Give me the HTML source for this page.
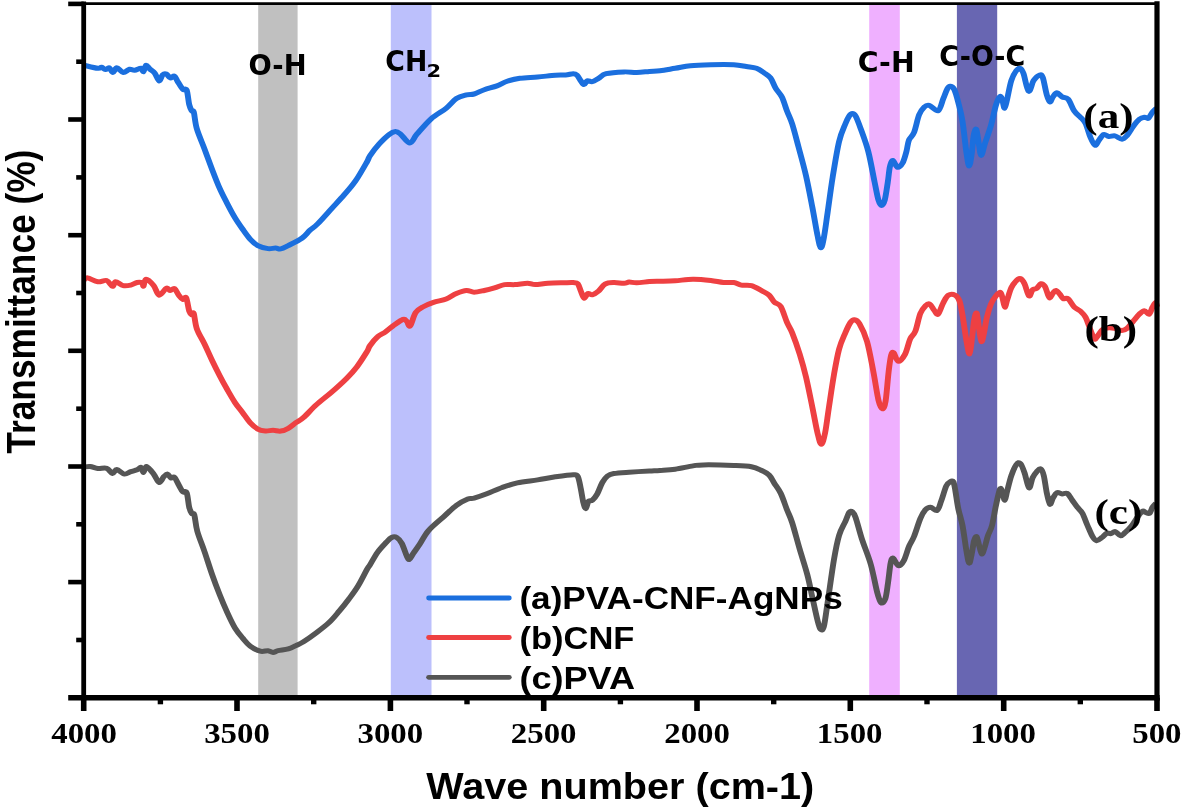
<!DOCTYPE html>
<html lang="en">
<head>
<meta charset="utf-8">
<title>FTIR spectra</title>
<style>
html,body{margin:0;padding:0;background:#fff;}
body{width:1181px;height:812px;overflow:hidden;}
svg{display:block;}
</style>
</head>
<body>
<svg width="1181" height="812" viewBox="0 0 1181 812">
<rect width="1181" height="812" fill="#ffffff"/>
<rect x="258.2" y="5" width="39.4" height="692.8" fill="#c0c0c0"/>
<rect x="390.8" y="5" width="40.7" height="692.8" fill="#bcc0fc"/>
<rect x="869.2" y="5" width="30.6" height="692.8" fill="#efb0ff"/>
<rect x="956.9" y="5" width="40.3" height="694.8" fill="#6866b2"/>
<g transform="scale(1.18,1)" fill="none" stroke-width="5.0" stroke-linejoin="round" stroke-linecap="butt">
<path d="M71.02,65.2C72.99,65.7 80.37,68.0 82.88,68.3C85.40,68.6 85.03,67.1 86.10,67.3C87.18,67.5 88.25,69.5 89.32,69.6C90.40,69.7 91.47,67.3 92.54,67.8C93.62,68.3 94.69,72.4 95.76,72.4C96.84,72.4 97.54,67.8 98.98,67.8C100.42,67.8 102.61,72.2 104.41,72.4C106.20,72.7 108.14,69.7 109.75,69.3C111.36,68.9 112.44,70.5 114.07,70.3C115.69,70.1 118.23,68.1 119.49,68.3C120.75,68.5 120.90,72.1 121.61,71.6C122.32,71.1 122.84,65.6 123.73,65.2C124.62,64.8 125.69,67.6 126.95,69.0C128.21,70.4 129.94,71.4 131.27,73.4C132.60,75.4 133.83,80.8 134.92,81.0C136.00,81.2 136.78,76.1 137.80,74.9C138.81,73.8 139.94,73.6 141.02,74.1C142.09,74.6 143.09,77.6 144.24,77.9C145.38,78.2 146.81,75.6 147.88,76.2C148.95,76.8 149.49,79.5 150.68,81.7C151.86,83.9 153.74,88.0 155.00,89.4C156.26,90.8 157.33,87.6 158.22,90.1C159.11,92.6 159.62,101.1 160.34,104.6C161.06,108.1 161.89,109.7 162.54,111.0C163.19,112.3 163.53,109.2 164.24,112.2C164.94,115.2 165.27,122.6 166.78,128.7C168.29,134.8 171.14,142.2 173.31,149.0C175.47,155.8 177.60,162.8 179.75,169.4C181.89,176.0 184.04,182.7 186.19,188.4C188.33,194.1 190.48,198.8 192.63,203.7C194.77,208.6 196.91,213.4 199.07,217.6C201.23,221.8 203.43,225.5 205.59,229.1C207.75,232.7 209.89,236.4 212.03,239.2C214.18,241.9 215.96,244.0 218.47,245.6C220.99,247.2 224.60,248.2 227.12,248.6C229.63,249.0 231.77,248.0 233.56,248.1C235.35,248.2 236.09,249.3 237.88,248.9C239.68,248.5 241.29,247.4 244.32,245.6C247.36,243.8 253.05,240.6 256.10,238.0C259.15,235.4 260.47,232.6 262.63,230.3C264.79,228.0 266.02,227.6 269.07,224.0C272.12,220.4 277.16,213.6 280.93,208.7C284.70,203.8 288.29,199.5 291.69,194.8C295.10,190.2 298.14,186.3 301.36,180.8C304.58,175.3 308.98,166.0 311.02,161.8C313.05,157.6 311.88,158.6 313.56,155.7C315.24,152.8 318.42,147.8 321.10,144.3C323.79,140.8 327.33,136.7 329.66,134.6C331.99,132.5 333.46,131.7 335.08,131.6C336.71,131.5 337.36,132.2 339.41,134.1C341.45,136.0 345.04,143.0 347.37,143.0C349.70,143.0 350.41,138.1 353.39,134.1C356.37,130.1 361.13,123.2 365.25,118.9C369.38,114.6 374.55,111.6 378.14,108.2C381.72,104.8 383.91,100.8 386.78,98.6C389.65,96.4 392.84,95.6 395.34,94.8C397.84,94.0 399.27,94.8 401.78,94.0C404.29,93.2 407.19,91.0 410.42,89.7C413.66,88.4 417.95,87.3 421.19,85.9C424.42,84.5 426.60,82.6 429.83,81.3C433.06,80.0 436.30,79.0 440.59,78.3C444.89,77.6 450.58,77.5 455.59,77.0C460.61,76.5 466.72,75.5 470.68,75.2C474.63,74.9 476.81,75.2 479.32,75.0C481.84,74.8 484.15,73.7 485.76,73.7C487.37,73.7 487.91,74.0 488.98,75.2C490.06,76.4 491.20,79.2 492.20,80.8C493.21,82.4 494.10,84.6 495.00,84.6C495.90,84.6 496.47,81.3 497.63,80.8C498.79,80.3 500.34,82.0 501.95,81.6C503.56,81.2 505.32,79.6 507.29,78.3C509.25,77.0 510.14,74.8 513.73,73.7C517.32,72.6 524.51,72.1 528.81,71.9C533.12,71.7 535.99,72.5 539.58,72.4C543.16,72.3 547.05,71.7 550.34,71.4C553.63,71.1 555.68,71.2 559.32,70.7C562.97,70.2 567.90,69.1 572.20,68.3C576.51,67.5 580.14,66.3 585.17,65.7C590.20,65.1 596.27,64.9 602.37,64.7C608.47,64.5 616.75,64.4 621.78,64.7C626.81,65.0 629.32,65.9 632.54,66.5C635.76,67.1 638.60,67.2 641.10,68.3C643.60,69.4 645.56,71.3 647.54,72.9C649.52,74.5 651.34,75.4 652.97,77.9C654.59,80.4 655.68,84.9 657.29,88.1C658.90,91.3 661.02,93.2 662.63,97.0C664.24,100.8 665.51,106.5 666.95,111.0C668.39,115.5 669.66,117.8 671.27,123.7C672.88,129.6 674.65,137.8 676.61,146.5C678.57,155.2 681.07,165.5 683.05,175.7C685.03,185.9 686.85,197.6 688.47,207.5C690.10,217.4 691.61,228.7 692.80,235.4C693.98,242.1 694.70,247.2 695.59,247.6C696.48,248.0 697.18,243.8 698.14,238.0C699.10,232.2 700.10,222.8 701.36,212.6C702.61,202.4 704.05,188.9 705.68,177.0C707.30,165.1 709.31,150.3 711.10,141.4C712.90,132.5 715.01,127.9 716.44,123.7C717.87,119.5 718.69,117.7 719.66,116.0C720.64,114.3 721.38,113.5 722.29,113.5C723.19,113.5 723.90,113.5 725.08,116.0C726.27,118.5 727.61,122.8 729.41,128.7C731.20,134.6 733.88,142.7 735.85,151.6C737.81,160.5 739.76,174.0 741.19,182.1C742.61,190.2 743.43,196.0 744.41,199.9C745.38,203.8 746.13,205.4 747.03,205.4C747.94,205.4 748.94,203.8 749.83,199.9C750.72,196.0 751.65,187.6 752.37,182.1C753.09,176.6 753.43,170.4 754.15,166.8C754.87,163.2 755.62,160.4 756.69,160.5C757.77,160.6 759.22,166.9 760.59,167.3C761.96,167.7 763.66,165.6 764.92,163.0C766.17,160.4 767.25,155.4 768.14,151.6C769.03,147.8 769.18,143.4 770.25,140.2C771.33,137.0 773.14,136.7 774.58,132.5C776.02,128.3 777.46,119.0 778.90,114.8C780.34,110.6 781.79,108.7 783.22,107.1C784.65,105.5 785.49,104.8 787.46,105.4C789.42,106.0 793.02,111.8 795.00,110.7C796.98,109.6 798.02,102.6 799.32,98.9C800.62,95.2 801.79,90.9 802.80,88.8C803.80,86.7 804.34,86.1 805.34,86.3C806.34,86.5 807.67,87.0 808.81,89.8C809.96,92.6 811.06,97.8 812.20,103.0C813.35,108.2 814.52,112.8 815.68,121.3C816.84,129.8 818.21,146.4 819.15,153.8C820.10,161.2 820.64,166.0 821.36,166.0C822.08,166.0 822.84,158.9 823.47,153.8C824.11,148.7 824.52,139.6 825.17,135.5C825.82,131.4 826.65,128.1 827.37,129.4C828.09,130.8 828.80,139.3 829.49,143.6C830.18,147.9 830.66,155.4 831.53,155.4C832.39,155.4 833.28,148.6 834.66,143.6C836.05,138.6 838.26,131.7 839.83,125.3C841.40,118.9 842.78,109.8 844.07,105.0C845.35,100.2 846.62,97.2 847.54,96.5C848.46,95.8 848.94,99.1 849.58,101.0C850.21,102.9 850.69,108.4 851.36,108.1C852.02,107.8 852.61,103.5 853.56,98.9C854.51,94.3 855.73,85.3 857.03,80.6C858.33,75.9 860.07,72.5 861.36,70.5C862.64,68.5 863.74,67.9 864.75,68.4C865.75,68.9 866.21,69.7 867.37,73.5C868.53,77.3 870.27,90.0 871.69,91.2C873.12,92.4 874.36,83.3 875.93,80.6C877.50,77.9 879.80,75.5 881.10,75.0C882.40,74.5 882.73,74.3 883.73,77.6C884.73,80.9 886.12,90.8 887.12,94.9C888.12,99.0 888.88,101.7 889.75,102.0C890.61,102.3 891.29,98.4 892.29,96.9C893.29,95.4 894.46,92.8 895.76,92.8C897.06,92.8 898.50,95.8 900.08,96.9C901.67,98.0 903.53,96.9 905.25,99.3C906.98,101.7 908.70,108.1 910.42,111.1C912.15,114.1 914.01,115.2 915.59,117.2C917.18,119.2 918.49,119.9 919.92,123.3C921.34,126.7 922.81,133.8 924.15,137.5C925.49,141.2 926.81,144.8 927.97,145.3C929.12,145.8 929.87,142.4 931.10,140.6C932.33,138.8 933.91,135.2 935.34,134.5C936.77,133.8 938.08,136.3 939.66,136.5C941.24,136.7 942.97,135.5 944.83,135.9C946.69,136.3 949.12,139.3 950.85,139.2C952.57,139.1 953.59,137.6 955.17,135.5C956.75,133.4 958.62,129.1 960.34,126.4C962.06,123.7 963.93,120.8 965.51,119.3C967.09,117.8 968.55,117.4 969.83,117.2C971.12,117.0 972.08,119.1 973.22,118.2C974.36,117.3 975.54,113.8 976.69,112.1C977.85,110.4 979.59,108.8 980.17,108.1" stroke="#1b6fde"/>
<path d="M71.02,280.0C71.55,279.6 72.26,277.6 74.24,277.9C76.21,278.2 80.18,281.4 82.88,281.8C85.58,282.2 88.35,279.8 90.42,280.5C92.50,281.2 94.08,286.1 95.34,286.3C96.60,286.5 96.45,281.9 97.97,281.8C99.48,281.7 102.26,285.1 104.41,285.6C106.55,286.2 108.87,285.6 110.85,285.1C112.82,284.6 114.66,282.9 116.27,282.5C117.88,282.1 119.62,282.4 120.51,283.0C121.40,283.6 121.07,286.7 121.61,286.1C122.15,285.5 122.29,279.3 123.73,279.2C125.17,279.1 128.39,282.9 130.25,285.6C132.12,288.3 133.12,294.8 134.92,295.2C136.71,295.6 139.46,288.9 141.02,288.1C142.57,287.3 143.09,290.5 144.24,290.6C145.38,290.7 146.62,287.8 147.88,288.6C149.14,289.5 150.59,293.9 151.78,295.7C152.97,297.5 154.00,299.1 155.00,299.5C156.00,299.9 156.91,295.9 157.80,297.8C158.69,299.7 159.55,308.2 160.34,311.0C161.13,313.8 161.89,314.4 162.54,314.8C163.19,315.2 163.53,311.2 164.24,313.5C164.94,315.8 165.27,323.6 166.78,328.7C168.29,333.8 171.14,338.7 173.31,344.0C175.47,349.3 177.60,355.2 179.75,360.5C181.89,365.8 184.04,370.8 186.19,375.7C188.33,380.6 190.48,385.2 192.63,389.7C194.77,394.1 196.91,398.6 199.07,402.4C201.23,406.2 203.43,409.2 205.59,412.6C207.75,416.0 209.89,419.9 212.03,422.7C214.18,425.4 216.33,427.7 218.47,429.1C220.62,430.5 222.77,430.7 224.92,430.9C227.06,431.1 229.19,430.3 231.36,430.3C233.52,430.3 235.72,431.4 237.88,431.1C240.04,430.8 242.18,429.7 244.32,428.3C246.47,426.9 248.62,424.5 250.76,422.7C252.91,420.9 254.34,420.6 257.20,417.6C260.07,414.6 264.01,409.1 267.97,404.9C271.92,400.7 276.62,396.6 280.93,392.2C285.24,387.8 290.23,382.5 293.81,378.3C297.40,374.1 299.59,371.2 302.46,366.8C305.32,362.4 309.17,355.1 311.02,351.6C312.87,348.1 312.06,348.1 313.56,345.6C315.06,343.1 317.85,338.9 320.00,336.7C322.15,334.4 324.28,333.9 326.44,332.1C328.60,330.3 330.45,328.1 332.97,326.0C335.48,323.9 339.56,320.2 341.53,319.4C343.49,318.6 343.74,320.3 344.75,321.4C345.75,322.5 346.29,327.5 347.54,326.0C348.80,324.5 350.42,315.8 352.29,312.6C354.15,309.4 356.21,308.4 358.73,306.7C361.24,305.0 364.14,303.7 367.37,302.4C370.61,301.1 374.90,300.6 378.14,299.1C381.37,297.6 383.91,294.9 386.78,293.5C389.65,292.1 392.84,290.7 395.34,290.5C397.84,290.3 399.27,292.2 401.78,292.2C404.29,292.2 407.54,291.2 410.42,290.5C413.31,289.8 416.20,288.9 419.07,287.9C421.94,286.9 424.76,285.2 427.63,284.6C430.49,284.1 433.04,284.8 436.27,284.6C439.51,284.4 444.17,283.3 447.03,283.3C449.90,283.3 450.61,284.6 453.47,284.6C456.34,284.6 460.30,283.6 464.24,283.3C468.18,283.0 473.53,282.9 477.12,282.8C480.71,282.7 483.67,282.4 485.76,282.6C487.85,282.8 488.59,282.4 489.66,283.8C490.73,285.2 491.31,288.6 492.20,291.0C493.09,293.4 494.00,297.7 495.00,298.1C496.00,298.5 497.06,294.1 498.22,293.5C499.38,292.9 500.44,295.2 501.95,294.8C503.46,294.4 505.49,292.8 507.29,291.0C509.08,289.2 510.56,285.5 512.71,284.1C514.86,282.7 517.49,282.7 520.17,282.6C522.85,282.5 526.65,283.4 528.81,283.3C530.97,283.2 531.34,282.2 533.14,282.1C534.93,282.0 536.71,282.9 539.58,282.8C542.44,282.7 547.05,281.9 550.34,281.6C553.63,281.4 555.68,281.4 559.32,281.3C562.97,281.2 567.54,281.2 572.20,280.8C576.86,280.4 582.26,279.2 587.29,279.2C592.32,279.1 598.06,279.9 602.37,280.5C606.68,281.1 609.90,282.2 613.14,282.5C616.37,282.8 619.27,282.1 621.78,282.5C624.29,282.9 625.72,284.6 628.22,285.1C630.72,285.6 633.91,284.7 636.78,285.6C639.65,286.5 642.91,289.0 645.42,290.6C647.94,292.2 650.07,293.3 651.86,295.2C653.66,297.1 654.56,300.2 656.19,302.1C657.81,304.0 659.82,303.0 661.61,306.4C663.40,309.8 665.34,318.0 666.95,322.4C668.56,326.8 669.48,327.3 671.27,332.6C673.06,337.9 675.75,346.7 677.71,354.1C679.68,361.5 681.26,368.1 683.05,377.0C684.84,385.9 686.85,398.2 688.47,407.5C690.10,416.8 691.54,426.8 692.80,432.9C694.05,439.0 694.94,444.3 696.02,444.3C697.09,444.3 698.16,439.0 699.24,432.9C700.31,426.8 701.20,417.2 702.46,407.5C703.71,397.8 705.34,384.2 706.78,374.5C708.22,364.8 709.49,356.1 711.10,349.1C712.71,342.1 714.83,337.1 716.44,332.6C718.05,328.2 719.51,324.5 720.76,322.4C722.02,320.3 722.73,319.6 723.98,319.8C725.24,320.0 726.51,320.1 728.31,323.7C730.10,327.3 732.77,333.4 734.75,341.4C736.72,349.4 738.56,362.1 740.17,371.9C741.78,381.6 743.15,393.8 744.41,399.9C745.66,406.0 746.69,408.6 747.71,408.8C748.73,409.0 749.62,407.2 750.51,401.1C751.40,395.0 752.27,379.5 753.05,371.9C753.83,364.3 754.45,358.6 755.17,355.4C755.89,352.2 756.36,351.9 757.37,352.9C758.39,353.9 759.66,361.1 761.27,361.3C762.88,361.5 765.35,357.8 767.03,354.1C768.71,350.4 769.92,342.7 771.36,338.9C772.80,335.1 774.25,335.5 775.68,331.3C777.10,327.1 778.49,317.7 779.92,313.5C781.34,309.3 782.91,307.5 784.24,305.9C785.56,304.3 786.65,303.4 787.88,304.1C789.11,304.8 790.42,308.4 791.61,310.1C792.80,311.8 793.71,315.4 795.00,314.2C796.29,313.0 797.88,306.1 799.32,303.0C800.76,299.9 801.92,296.6 803.64,295.3C805.37,294.0 808.08,294.4 809.66,295.3C811.24,296.2 812.13,297.7 813.14,301.0C814.14,304.3 814.68,308.4 815.68,315.2C816.68,322.0 818.15,335.2 819.15,341.6C820.16,348.0 820.92,354.5 821.69,353.8C822.47,353.1 823.18,343.1 823.81,337.5C824.45,331.9 824.86,324.4 825.51,320.3C826.16,316.2 826.99,311.7 827.71,313.2C828.43,314.7 829.17,324.7 829.83,329.4C830.49,334.1 831.03,340.9 831.69,341.6C832.36,342.3 833.04,337.6 833.81,333.5C834.59,329.4 835.35,322.1 836.36,317.2C837.36,312.3 838.55,307.6 839.83,304.0C841.12,300.4 842.73,297.8 844.07,295.9C845.41,294.0 846.94,291.9 847.88,292.4C848.83,292.9 849.14,296.4 849.75,298.9C850.35,301.3 850.89,306.9 851.53,307.1C852.16,307.3 852.64,303.1 853.56,299.9C854.48,296.7 855.73,291.0 857.03,287.8C858.33,284.6 860.07,282.1 861.36,280.6C862.64,279.1 863.60,278.1 864.75,278.6C865.89,279.1 867.01,280.8 868.22,283.7C869.44,286.6 870.89,294.9 872.03,295.9C873.18,296.9 874.00,291.1 875.08,289.8C876.17,288.6 877.40,289.4 878.56,288.4C879.72,287.4 880.89,284.0 882.03,283.7C883.18,283.4 884.42,284.5 885.42,286.3C886.43,288.1 887.33,292.6 888.05,294.5C888.77,296.4 889.04,298.1 889.75,297.9C890.45,297.7 891.43,294.4 892.29,293.2C893.15,291.9 893.90,290.2 894.92,290.4C895.93,290.6 897.39,293.1 898.39,294.5C899.39,295.9 899.79,297.8 900.93,298.5C902.08,299.2 903.67,297.5 905.25,298.9C906.84,300.3 908.70,305.1 910.42,307.1C912.15,309.1 914.01,309.4 915.59,311.1C917.18,312.8 918.63,314.5 919.92,317.2C921.20,319.9 922.30,324.3 923.31,327.4C924.31,330.4 925.16,333.5 925.93,335.5C926.71,337.5 927.10,339.4 927.97,339.2C928.83,339.0 930.01,336.1 931.10,334.5C932.19,332.9 933.06,330.5 934.49,329.4C935.92,328.3 937.94,328.0 939.66,327.8C941.38,327.6 942.97,328.0 944.83,328.4C946.69,328.8 949.12,330.4 950.85,330.4C952.57,330.4 953.59,329.9 955.17,328.4C956.75,326.9 958.62,323.7 960.34,321.3C962.06,318.9 963.93,316.0 965.51,314.2C967.09,312.4 968.45,310.7 969.83,310.7C971.21,310.7 972.67,314.8 973.81,314.2C974.96,313.6 975.78,309.0 976.69,307.1C977.61,305.2 978.66,302.6 979.32,302.6C979.99,302.6 980.45,306.4 980.68,307.1" stroke="#ee4042"/>
<path d="M71.02,467.0C71.92,466.9 74.46,466.2 76.44,466.5C78.42,466.8 80.55,468.2 82.88,468.5C85.21,468.8 88.35,467.5 90.42,468.3C92.50,469.1 93.91,473.2 95.34,473.4C96.77,473.6 97.30,469.5 98.98,469.6C100.66,469.7 103.45,473.8 105.42,474.1C107.40,474.4 109.04,472.3 110.85,471.6C112.66,470.9 114.83,470.5 116.27,469.8C117.71,469.1 118.60,466.9 119.49,467.3C120.38,467.7 120.83,472.5 121.61,472.4C122.39,472.3 122.71,466.2 124.15,466.5C125.59,466.8 128.46,471.4 130.25,474.1C132.05,476.8 133.49,482.1 134.92,482.5C136.34,482.9 137.63,478.1 138.81,476.7C140.00,475.3 141.03,473.9 142.03,474.1C143.04,474.3 143.86,477.3 144.83,477.9C145.81,478.4 146.72,476.1 147.88,477.4C149.04,478.7 150.59,483.2 151.78,485.6C152.97,488.0 153.93,490.7 155.00,491.9C156.07,493.1 157.33,490.1 158.22,492.7C159.11,495.2 159.62,503.7 160.34,507.2C161.06,510.7 161.82,512.2 162.54,513.5C163.26,514.8 163.88,511.8 164.66,514.8C165.44,517.8 165.76,525.2 167.20,531.3C168.64,537.4 171.21,544.4 173.31,551.6C175.40,558.8 177.60,567.3 179.75,574.5C181.89,581.7 184.04,588.4 186.19,594.8C188.33,601.1 190.48,607.1 192.63,612.6C194.77,618.1 196.91,623.6 199.07,627.8C201.23,632.0 203.43,635.0 205.59,638.0C207.75,641.0 209.53,643.9 212.03,646.1C214.53,648.3 218.08,650.4 220.59,651.2C223.11,652.0 225.32,650.5 227.12,650.7C228.91,650.9 229.93,652.4 231.36,652.4C232.78,652.4 233.52,651.3 235.68,650.7C237.84,650.1 241.81,649.8 244.32,648.9C246.84,648.0 248.62,646.8 250.76,645.6C252.91,644.4 254.34,643.9 257.20,641.8C260.07,639.7 264.38,636.1 267.97,632.9C271.55,629.7 275.49,626.3 278.73,622.7C281.96,619.1 284.51,615.3 287.37,611.3C290.24,607.3 293.25,602.8 295.93,598.6C298.62,594.4 300.96,590.8 303.47,585.9C305.99,581.0 309.34,572.9 311.02,569.4C312.70,565.9 312.06,567.8 313.56,564.9C315.06,562.0 317.67,556.0 320.00,552.2C322.33,548.4 325.56,544.6 327.54,542.1C329.52,539.6 330.42,538.3 331.86,537.5C333.31,536.7 334.75,536.5 336.19,537.5C337.63,538.5 339.08,540.3 340.51,543.4C341.94,546.5 343.67,553.4 344.75,556.1C345.82,558.8 346.05,559.8 346.95,559.4C347.85,559.0 348.74,556.0 350.17,553.5C351.60,551.0 353.36,548.4 355.51,544.6C357.66,540.8 359.63,535.4 363.05,530.7C366.47,526.1 372.06,520.9 376.02,516.7C379.97,512.5 383.38,508.3 386.78,505.3C390.18,502.3 393.94,500.1 396.44,498.9C398.94,497.7 399.10,499.0 401.78,498.1C404.46,497.2 408.59,495.6 412.54,493.8C416.50,492.0 421.20,489.3 425.51,487.5C429.82,485.7 433.38,484.2 438.39,482.9C443.40,481.6 450.21,480.9 455.59,479.9C460.97,478.9 465.65,477.6 470.68,476.8C475.71,476.0 482.60,474.9 485.76,474.8C488.93,474.8 488.59,474.2 489.66,476.5C490.73,478.8 491.41,484.3 492.20,488.7C492.99,493.1 493.69,499.4 494.41,502.7C495.13,506.0 495.82,508.8 496.53,508.6C497.23,508.4 497.74,502.8 498.64,501.4C499.55,500.0 500.69,501.5 501.95,500.2C503.21,498.9 504.76,496.8 506.19,493.8C507.61,490.8 509.07,485.4 510.51,482.4C511.95,479.4 513.22,477.5 514.83,476.0C516.44,474.5 517.12,474.1 520.17,473.5C523.22,472.9 528.11,472.6 533.14,472.2C538.16,471.8 545.97,471.3 550.34,471.0C554.70,470.7 555.68,470.7 559.32,470.4C562.97,470.1 567.54,469.9 572.20,469.2C576.86,468.4 583.33,466.6 587.29,465.9C591.24,465.2 590.18,465.0 595.93,464.9C601.68,464.8 614.97,465.1 621.78,465.4C628.59,465.7 632.84,465.8 636.78,466.7C640.72,467.6 642.91,469.1 645.42,470.5C647.94,471.9 650.07,473.0 651.86,475.1C653.66,477.2 654.56,480.2 656.19,483.2C657.81,486.2 659.82,488.9 661.61,493.3C663.40,497.7 665.34,504.9 666.95,509.8C668.56,514.7 669.48,515.9 671.27,522.5C673.06,529.1 675.56,540.5 677.71,549.2C679.86,557.9 682.36,566.6 684.15,574.6C685.95,582.6 687.03,589.9 688.47,597.5C689.92,605.1 691.65,615.0 692.80,620.3C693.94,625.6 694.45,628.1 695.34,629.2C696.23,630.3 697.13,631.1 698.14,626.7C699.14,622.3 699.92,613.8 701.36,602.6C702.80,591.4 705.16,570.6 706.78,559.4C708.40,548.2 709.49,541.6 711.10,535.3C712.71,528.9 715.01,525.1 716.44,521.3C717.87,517.5 718.69,514.0 719.66,512.4C720.64,510.8 721.38,511.0 722.29,511.9C723.19,512.8 723.73,513.0 725.08,517.5C726.44,522.0 728.28,531.2 730.42,539.0C732.57,546.8 735.81,555.6 737.97,564.5C740.13,573.4 741.95,586.0 743.39,592.4C744.83,598.8 745.47,601.5 746.61,602.6C747.75,603.7 749.25,602.2 750.25,598.8C751.26,595.4 751.88,588.1 752.63,582.2C753.38,576.3 754.03,567.2 754.75,563.2C755.47,559.2 755.86,557.7 756.95,558.1C758.04,558.5 759.77,565.3 761.27,565.7C762.77,566.1 764.44,563.8 765.93,560.6C767.43,557.4 768.81,550.7 770.25,546.7C771.69,542.7 772.97,541.2 774.58,536.5C776.19,531.8 778.31,523.2 779.92,518.7C781.53,514.2 782.80,511.7 784.24,509.8C785.68,507.9 786.91,507.2 788.56,507.3C790.21,507.4 792.64,511.3 794.15,510.3C795.66,509.3 796.33,505.2 797.63,501.1C798.93,497.0 800.66,489.1 801.95,485.9C803.23,482.7 804.34,482.5 805.34,481.8C806.34,481.1 807.25,480.3 807.97,481.8C808.69,483.3 808.95,486.4 809.66,491.0C810.37,495.6 811.20,503.6 812.20,509.3C813.21,515.0 814.52,518.4 815.68,525.5C816.84,532.6 818.21,545.6 819.15,551.9C820.10,558.2 820.64,562.8 821.36,563.1C822.08,563.5 822.78,557.7 823.47,554.0C824.17,550.3 824.80,543.6 825.51,540.7C826.21,537.8 826.99,535.9 827.71,536.7C828.43,537.6 829.11,542.9 829.83,545.8C830.55,548.7 831.29,553.6 832.03,554.0C832.78,554.4 833.46,550.9 834.32,547.9C835.18,544.9 836.14,539.4 837.20,535.7C838.26,532.0 839.53,530.6 840.68,525.5C841.82,520.4 842.92,511.3 844.07,505.2C845.21,499.1 846.62,490.9 847.54,488.9C848.46,486.9 848.91,491.1 849.58,493.0C850.24,494.9 850.86,500.4 851.53,500.1C852.19,499.8 852.64,495.1 853.56,491.0C854.48,486.9 855.73,480.1 857.03,475.7C858.33,471.3 860.07,466.5 861.36,464.5C862.64,462.5 863.60,462.1 864.75,463.5C865.89,464.9 867.01,468.6 868.22,472.7C869.44,476.8 870.89,487.0 872.03,487.9C873.18,488.8 874.00,480.5 875.08,477.8C876.17,475.1 877.40,473.2 878.56,471.7C879.72,470.2 881.03,468.3 882.03,469.0C883.04,469.7 883.73,471.7 884.58,475.7C885.42,479.7 886.26,488.2 887.12,493.0C887.98,497.8 888.88,503.3 889.75,504.2C890.61,505.1 891.29,500.0 892.29,498.1C893.29,496.2 894.46,493.3 895.76,492.6C897.06,491.9 898.64,493.9 900.08,494.0C901.53,494.1 902.98,492.4 904.41,493.4C905.83,494.4 907.22,497.8 908.64,500.1C910.07,502.4 911.53,505.0 912.97,507.2C914.41,509.4 915.85,510.2 917.29,513.3C918.73,516.3 920.17,521.6 921.61,525.5C923.05,529.4 924.65,534.2 925.93,536.7C927.22,539.2 928.04,540.5 929.32,540.7C930.61,540.9 932.20,539.0 933.64,537.7C935.08,536.5 936.67,533.9 937.97,533.2C939.27,532.5 940.24,533.9 941.44,533.6C942.64,533.3 943.80,531.2 945.17,531.6C946.54,532.0 948.28,535.5 949.66,535.7C951.05,535.9 951.98,534.1 953.47,532.6C954.97,531.1 956.92,529.0 958.64,526.5C960.37,524.0 962.23,519.9 963.81,517.4C965.40,514.9 966.99,512.1 968.14,511.3C969.28,510.4 969.68,512.0 970.68,512.3C971.68,512.6 973.15,514.1 974.15,513.3C975.16,512.4 975.78,508.9 976.69,507.2C977.61,505.5 979.17,503.9 979.66,503.2" stroke="#555555"/>
</g>
<g stroke="#000" fill="none">
<line x1="83.7" y1="3.6" x2="1157.0" y2="3.6" stroke-width="2.9"/>
<line x1="1157.0" y1="1.2000000000000002" x2="1157.0" y2="700.5" stroke-width="5.2"/>
<line x1="83.7" y1="1.4" x2="83.7" y2="700.5" stroke-width="4.8"/>
<line x1="68.2" y1="697.8" x2="1159.6" y2="697.8" stroke-width="5.4"/>
<line x1="68.2" y1="3.9" x2="83.7" y2="3.9" stroke-width="4.6"/>
<line x1="76.2" y1="61.7" x2="83.7" y2="61.7" stroke-width="4.6"/>
<line x1="68.2" y1="119.5" x2="83.7" y2="119.5" stroke-width="4.6"/>
<line x1="76.2" y1="177.4" x2="83.7" y2="177.4" stroke-width="4.6"/>
<line x1="68.2" y1="235.2" x2="83.7" y2="235.2" stroke-width="4.6"/>
<line x1="76.2" y1="293.0" x2="83.7" y2="293.0" stroke-width="4.6"/>
<line x1="68.2" y1="350.8" x2="83.7" y2="350.8" stroke-width="4.6"/>
<line x1="76.2" y1="408.7" x2="83.7" y2="408.7" stroke-width="4.6"/>
<line x1="68.2" y1="466.5" x2="83.7" y2="466.5" stroke-width="4.6"/>
<line x1="76.2" y1="524.3" x2="83.7" y2="524.3" stroke-width="4.6"/>
<line x1="68.2" y1="582.1" x2="83.7" y2="582.1" stroke-width="4.6"/>
<line x1="76.2" y1="640.0" x2="83.7" y2="640.0" stroke-width="4.6"/>
<line x1="83.7" y1="697.8" x2="83.7" y2="711" stroke-width="5.6"/>
<line x1="160.4" y1="697.8" x2="160.4" y2="704.3" stroke-width="5.4"/>
<line x1="237.0" y1="697.8" x2="237.0" y2="711" stroke-width="5.6"/>
<line x1="313.7" y1="697.8" x2="313.7" y2="704.3" stroke-width="5.4"/>
<line x1="390.4" y1="697.8" x2="390.4" y2="711" stroke-width="5.6"/>
<line x1="467.0" y1="697.8" x2="467.0" y2="704.3" stroke-width="5.4"/>
<line x1="543.7" y1="697.8" x2="543.7" y2="711" stroke-width="5.6"/>
<line x1="620.4" y1="697.8" x2="620.4" y2="704.3" stroke-width="5.4"/>
<line x1="697.0" y1="697.8" x2="697.0" y2="711" stroke-width="5.6"/>
<line x1="773.7" y1="697.8" x2="773.7" y2="704.3" stroke-width="5.4"/>
<line x1="850.3" y1="697.8" x2="850.3" y2="711" stroke-width="5.6"/>
<line x1="927.0" y1="697.8" x2="927.0" y2="704.3" stroke-width="5.4"/>
<line x1="1003.7" y1="697.8" x2="1003.7" y2="711" stroke-width="5.6"/>
<line x1="1080.3" y1="697.8" x2="1080.3" y2="704.3" stroke-width="5.4"/>
<line x1="1157.0" y1="697.8" x2="1157.0" y2="711" stroke-width="5.6"/>
</g>
<g stroke-width="4.8" stroke-linecap="round">
<line x1="428.6" y1="598" x2="509.3" y2="598" stroke="#1b6fde"/>
<line x1="428.6" y1="637.5" x2="509.3" y2="637.5" stroke="#ee4042"/>
<line x1="428.6" y1="677.3" x2="509.3" y2="677.3" stroke="#555555"/>
</g>
<text transform="translate(51.24,742.70) scale(1.1250,1)" font-family="'Liberation Serif', serif" font-weight="bold" font-size="29.20" fill="#000">4000</text>
<text transform="translate(204.20,742.70) scale(1.1250,1)" font-family="'Liberation Serif', serif" font-weight="bold" font-size="29.20" fill="#000">3500</text>
<text transform="translate(357.47,742.58) scale(1.1250,1)" font-family="'Liberation Serif', serif" font-weight="bold" font-size="29.20" fill="#000">3000</text>
<text transform="translate(510.81,742.70) scale(1.1250,1)" font-family="'Liberation Serif', serif" font-weight="bold" font-size="29.20" fill="#000">2500</text>
<text transform="translate(664.22,742.61) scale(1.1250,1)" font-family="'Liberation Serif', serif" font-weight="bold" font-size="29.20" fill="#000">2000</text>
<text transform="translate(816.83,742.70) scale(1.1250,1)" font-family="'Liberation Serif', serif" font-weight="bold" font-size="29.20" fill="#000">1500</text>
<text transform="translate(970.21,742.70) scale(1.1250,1)" font-family="'Liberation Serif', serif" font-weight="bold" font-size="29.20" fill="#000">1000</text>
<text transform="translate(1132.29,742.70) scale(1.1250,1)" font-family="'Liberation Serif', serif" font-weight="bold" font-size="29.20" fill="#000">500</text>
<text transform="translate(426.31,799.10) scale(1.0827,1)" font-family="'Liberation Sans', sans-serif" font-weight="bold" font-size="36.57" fill="#000">Wave number (cm-1)</text>
<text transform="translate(35.05,453.67) rotate(-90) scale(0.8680,1)" font-family="'Liberation Sans', sans-serif" font-weight="bold" font-size="40.68" fill="#000">Transmittance (%)</text>
<text transform="translate(248.56,75.15) scale(0.9370,1)" font-family="'DejaVu Sans', 'Liberation Sans', sans-serif" font-weight="bold" font-size="29.20" fill="#000">O-H</text>
<text transform="translate(385.31,70.70) scale(0.9150,1)" font-family="'DejaVu Sans', 'Liberation Sans', sans-serif" font-weight="bold" font-size="29.20" fill="#000">CH</text>
<text transform="translate(426.58,77.49) scale(1.2270,1)" font-family="'DejaVu Sans', 'Liberation Sans', sans-serif" font-weight="bold" font-size="17.11" fill="#000">2</text>
<text transform="translate(857.63,72.30) scale(0.9720,1)" font-family="'DejaVu Sans', 'Liberation Sans', sans-serif" font-weight="bold" font-size="29.20" fill="#000">C-H</text>
<text transform="translate(939.34,65.98) scale(0.9220,1)" font-family="'DejaVu Sans', 'Liberation Sans', sans-serif" font-weight="bold" font-size="29.20" fill="#000">C-O-C</text>
<text transform="translate(1083.33,127.94) scale(1.1900,1)" font-family="'Liberation Serif', serif" font-weight="bold" font-size="36.20" fill="#000">(a)</text>
<text transform="translate(1084.44,341.20) scale(1.1900,1)" font-family="'Liberation Serif', serif" font-weight="bold" font-size="36.20" fill="#000">(b)</text>
<text transform="translate(1094.50,523.62) scale(1.1900,1)" font-family="'Liberation Serif', serif" font-weight="bold" font-size="36.20" fill="#000">(c)</text>
<text transform="translate(519.40,608.70) scale(1.1480,1)" font-family="'Liberation Sans', sans-serif" font-weight="bold" font-size="30.60" fill="#000">(a)PVA-CNF-AgNPs</text>
<text transform="translate(519.40,648.60) scale(1.1280,1)" font-family="'Liberation Sans', sans-serif" font-weight="bold" font-size="30.60" fill="#000">(b)CNF</text>
<text transform="translate(519.40,688.60) scale(1.1800,1)" font-family="'Liberation Sans', sans-serif" font-weight="bold" font-size="30.60" fill="#000">(c)PVA</text>
</svg>
</body>
</html>
